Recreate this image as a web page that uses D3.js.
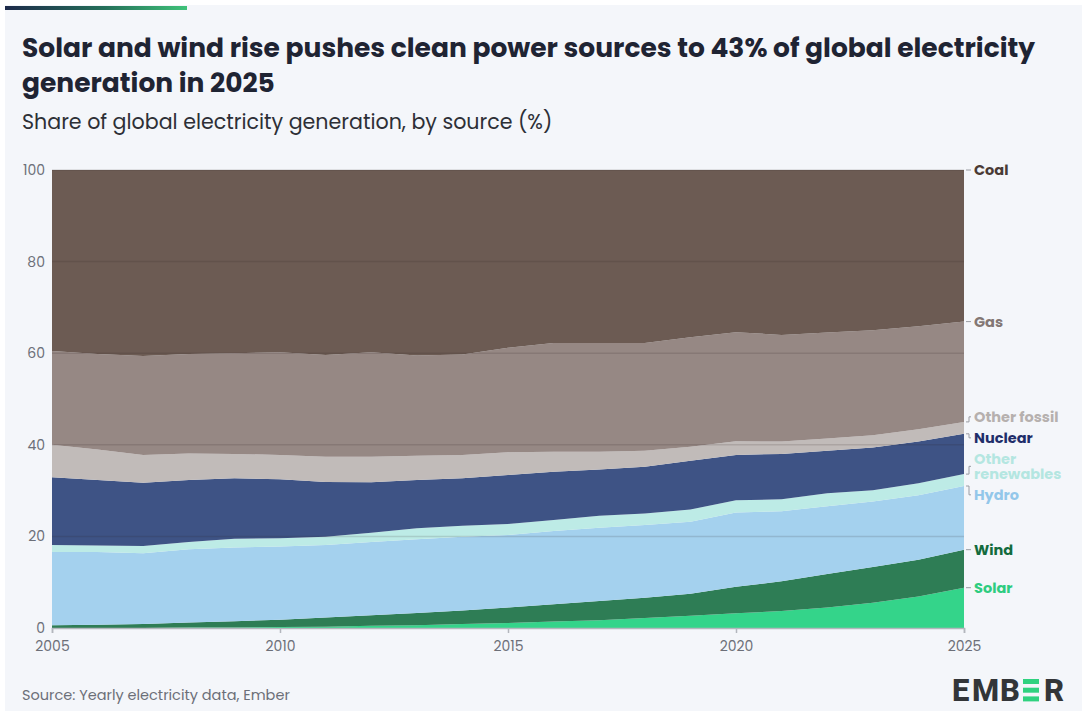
<!DOCTYPE html>
<html>
<head>
<meta charset="utf-8">
<script src="https://cdn.jsdelivr.net/npm/d3@7"></script>
<style>
  body { margin: 0; background: #ffffff; }
  svg { display: block; font-family: Poppins, Inter, "Noto Sans", sans-serif; }
</style>
</head>
<body>
<svg class="chart" width="1087" height="716"></svg>
<script>
"use strict";

let years = d3.range(2005, 2026);

// share of generation (%) per source, 2005..2025
let solar = [0.0, 0.0, 0.0, 0.1, 0.1, 0.2, 0.3, 0.5, 0.6, 0.9, 1.1, 1.4, 1.7, 2.2, 2.7, 3.2, 3.7, 4.5, 5.5, 6.9, 8.8];
let wind = [0.6, 0.7, 0.9, 1.1, 1.4, 1.6, 2.0, 2.3, 2.7, 2.9, 3.4, 3.8, 4.2, 4.4, 4.8, 5.8, 6.5, 7.3, 7.8, 8.0, 8.3];
let hydro = [16.0, 15.9, 15.4, 16.0, 16.1, 16.0, 15.8, 16.0, 16.1, 16.1, 15.8, 16.0, 16.0, 15.9, 15.7, 16.2, 15.3, 14.8, 14.3, 14.1, 13.9];
let otherRenewables = [1.5, 1.4, 1.6, 1.6, 1.9, 1.8, 1.8, 2.0, 2.4, 2.4, 2.4, 2.4, 2.6, 2.5, 2.7, 2.7, 2.6, 2.8, 2.5, 2.6, 2.6];
let nuclear = [14.8, 14.3, 13.8, 13.5, 13.2, 12.9, 12.0, 11.0, 10.5, 10.4, 10.7, 10.5, 10.1, 10.2, 10.6, 9.9, 9.9, 9.3, 9.3, 9.1, 8.8];
let otherFossil = [7.1, 6.7, 6.1, 5.8, 5.3, 5.3, 5.5, 5.6, 5.3, 5.1, 5.0, 4.4, 3.9, 3.5, 3.1, 3.0, 2.7, 2.7, 2.7, 2.7, 2.6];
let gas = [20.5, 20.8, 21.6, 21.7, 22.0, 22.4, 22.2, 22.8, 21.9, 21.9, 22.8, 23.7, 23.7, 23.5, 23.9, 23.8, 23.3, 23.1, 22.9, 22.5, 21.9];
let coal = [39.5, 40.2, 40.6, 40.2, 40.0, 39.8, 40.4, 39.8, 40.5, 40.3, 38.8, 37.8, 37.8, 37.8, 36.5, 35.4, 36.0, 35.5, 35.0, 34.1, 33.1];

let yTicks = [0, 20, 40, 60, 80, 100];
let xTicks = [2005, 2010, 2015, 2020, 2025];

// bottom of the stack first
let series = [
  { key: "solar", name: ["Solar"], values: solar, fill: "#34d48a", text: "#2ecc80" },
  { key: "wind", name: ["Wind"], values: wind, fill: "#2e7d55", text: "#136b3d" },
  { key: "hydro", name: ["Hydro"], values: hydro, fill: "#a4d1ee", text: "#93c7ea" },
  { key: "otherRen", name: ["Other", "renewables"], values: otherRenewables, fill: "#bdebe6", text: "#b4e6e1" },
  { key: "nuclear", name: ["Nuclear"], values: nuclear, fill: "#3e5385", text: "#1f2e6a" },
  { key: "otherFossil", name: ["Other fossil"], values: otherFossil, fill: "#c1bbb9", text: "#b6b0ae" },
  { key: "gas", name: ["Gas"], values: gas, fill: "#968884", text: "#837774" },
  { key: "coal", name: ["Coal"], values: coal, fill: "#6c5b53", text: "#4a3a35" }
];

let rows = years.map((yr, i) => {
  let row = { year: yr };
  series.forEach(s => { row[s.key] = s.values[i]; });
  return row;
});

let svg = d3.select('.chart');

let plotLeft = 52, plotRight = 964, plotTop = 170, plotBottom = 628;

let x = d3.scaleLinear().domain([2005, 2025]).range([plotLeft, plotRight]);
let y = d3.scaleLinear().domain([0, 100]).range([plotBottom, plotTop]);

// card + header
svg.append('rect')
  .attr('x', 5).attr('y', 5)
  .attr('width', 1077).attr('height', 706)
  .attr('fill', '#f4f6fa');

let grad = svg.append('defs').append('linearGradient')
  .attr('id', 'topbar');
grad.append('stop').attr('offset', '0%').attr('stop-color', '#1d2a4a');
grad.append('stop').attr('offset', '55%').attr('stop-color', '#25705a');
grad.append('stop').attr('offset', '100%').attr('stop-color', '#3fc279');

svg.append('rect')
  .attr('x', 5).attr('y', 6)
  .attr('width', 182).attr('height', 4)
  .attr('fill', 'url(#topbar)');

let title = svg.append('text')
  .attr('x', 22)
  .attr('font-size', 26.5)
  .attr('font-weight', 700)
  .attr('fill', '#1f2433');
title.append('tspan').attr('x', 22).attr('y', 57)
  .text('Solar and wind rise pushes clean power sources to 43% of global electricity');
title.append('tspan').attr('x', 22).attr('y', 92)
  .text('generation in 2025');

svg.append('text')
  .attr('x', 22).attr('y', 129)
  .attr('font-size', 20.6)
  .attr('fill', '#2d2f36')
  .text('Share of global electricity generation, by source (%)');

// areas
let stack = d3.stack().keys(series.map(s => s.key));
let layers = stack(rows);

let area = d3.area()
  .x(d => x(d.data.year))
  .y0(d => y(d[0]))
  .y1(d => y(d[1]));

svg.append('g')
  .selectAll('path')
  .data(layers)
  .enter()
  .append('path')
  .attr('d', area)
  .attr('fill', (d, i) => series[i].fill);

// grid lines sit over the areas
svg.append('g')
  .selectAll('line')
  .data(yTicks.filter(t => t > 0))
  .enter()
  .append('line')
  .attr('x1', plotLeft).attr('x2', plotRight)
  .attr('y1', d => y(d)).attr('y2', d => y(d))
  .attr('stroke', 'rgba(40,30,30,0.14)')
  .attr('stroke-width', 1.5);

// axes
let xAxis = svg.append('g')
  .attr('transform', 'translate(0,' + plotBottom + ')')
  .call(d3.axisBottom(x).tickValues(xTicks).tickFormat(d3.format('d')).tickSize(5).tickPadding(8));
xAxis.select('.domain').attr('stroke', '#b3b6bd').attr('stroke-width', 1.5);
xAxis.selectAll('.tick line').attr('stroke', '#b3b6bd').attr('stroke-width', 1.5);
xAxis.selectAll('.tick text')
  .attr('font-size', 14).attr('fill', '#6c6f78')
  .attr('font-family', 'Poppins, Inter, sans-serif');

let yAxis = svg.append('g')
  .attr('transform', 'translate(' + (plotLeft - 7) + ',0)')
  .call(d3.axisLeft(y).tickValues(yTicks).tickSize(0).tickPadding(0));
yAxis.select('.domain').remove();
yAxis.selectAll('.tick text')
  .attr('font-size', 14).attr('fill', '#6c6f78')
  .attr('font-family', 'Poppins, Inter, sans-serif');

// end labels, pushed apart where they collide
let labels = layers.map((l, i) => {
  let s = series[i];
  let last = l[l.length - 1];
  let anchor = y(last[1]);
  return { s: s, anchor: anchor, pos: anchor, half: s.name.length === 1 ? 8 : 15.5 };
}).reverse();

for (let k = 0; k < 60; k++) {
  for (let i = 0; i < labels.length - 1; i++) {
    let a = labels[i], b = labels[i + 1];
    let need = a.half + b.half + 5;
    let gap = b.pos - a.pos;
    if (gap < need) {
      let push = (need - gap) / 2;
      a.pos -= push;
      b.pos += push;
    }
  }
}

let lab = svg.append('g');
labels.forEach(d => {
  let moved = Math.abs(d.pos - d.anchor) > 1;
  let path = moved
    ? 'M' + (plotRight + 2) + ',' + d.anchor + 'H' + (plotRight + 5) + 'V' + d.pos + 'H' + (plotRight + 7)
    : 'M' + (plotRight + 2) + ',' + d.anchor + 'H' + (plotRight + 7);
  lab.append('path')
    .attr('d', path)
    .attr('fill', 'none')
    .attr('stroke', '#9a9ca3')
    .attr('stroke-width', 1);
  let t = lab.append('text')
    .attr('x', plotRight + 10)
    .attr('font-size', 14.5)
    .attr('font-weight', 700)
    .attr('fill', d.s.text);
  let n = d.s.name.length;
  d.s.name.forEach((line, j) => {
    t.append('tspan')
      .attr('x', plotRight + 10)
      .attr('y', d.pos + (j - (n - 1) / 2) * 14.5)
      .attr('dy', '0.35em')
      .text(line);
  });
});

// footer
svg.append('text')
  .attr('x', 22).attr('y', 700)
  .attr('font-size', 14.5)
  .attr('fill', '#6c6f78')
  .text('Source: Yearly electricity data, Ember');

let logo = svg.append('g').attr('transform', 'translate(952,701)');
let logoLetters = [{ c: 'E', dx: 0 }, { c: 'M', dx: 20 }, { c: 'B', dx: 48 }, { c: 'R', dx: 92 }];
logo.selectAll('text')
  .data(logoLetters)
  .enter()
  .append('text')
  .attr('x', d => d.dx).attr('y', 0)
  .attr('font-size', 31)
  .attr('font-weight', 800)
  .attr('font-family', 'Roboto, Inter, sans-serif')
  .attr('fill', '#333538')
  .text(d => d.c);
logo.selectAll('rect')
  .data([0, 1, 2])
  .enter()
  .append('rect')
  .attr('x', 71)
  .attr('y', d => -22 + d * 8.7)
  .attr('width', 16)
  .attr('height', 5)
  .attr('fill', '#2fd27f');
</script>
</body>
</html>
